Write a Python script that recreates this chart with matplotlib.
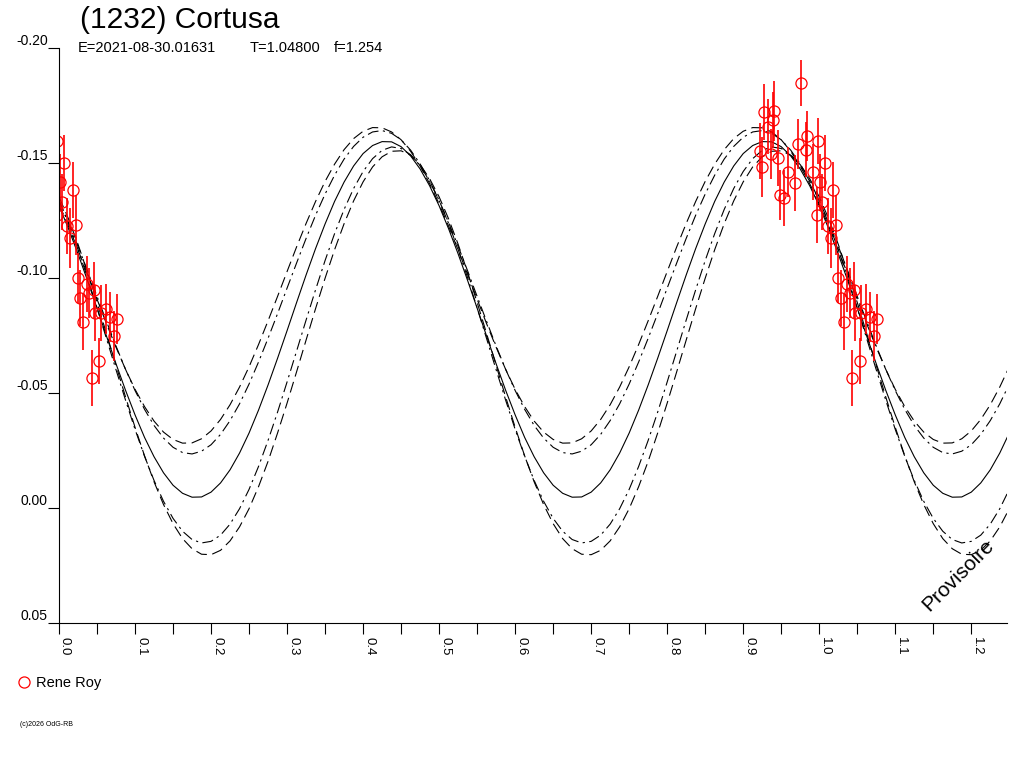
import numpy as np
import matplotlib.pyplot as plt
from matplotlib.lines import Line2D

plt.rcParams['font.family'] = ['Liberation Sans', 'DejaVu Sans']

# measurements (phase, reduced magnitude, 1-sigma error) - Rene Roy
obs_phase = [0.922, 0.925, 0.928, 0.933, 0.936, 0.939, 0.941, 0.946, 0.949, 0.954,
             0.959, 0.968, 0.972, 0.976, 0.982, 0.984, 0.992, 0.997, 0.998,
             1.001, 1.004, 1.007, 1.011, 1.015, 1.018, 1.022, 1.025, 1.028, 1.032,
             1.037, 1.040, 1.043, 1.046, 1.047, 1.053, 1.055, 1.062, 1.067, 1.072, 1.076]
obs_mag = [-0.1552, -0.1483, -0.1722, -0.1657, -0.1539, -0.1687, -0.1726, -0.1522, -0.1361, -0.1348,
           -0.1461, -0.1413, -0.1583, -0.1848, -0.1557, -0.1617, -0.1461, -0.1274, -0.1596,
           -0.1417, -0.1330, -0.1500, -0.1226, -0.1174, -0.1383, -0.1230, -0.1000, -0.0913, -0.0809,
           -0.0974, -0.0935, -0.0565, -0.0948, -0.0848, -0.0639, -0.0848, -0.0865, -0.0830, -0.0748, -0.0822]
obs_err = [0.012, 0.013, 0.012, 0.012, 0.011, 0.012, 0.013, 0.012, 0.011, 0.012,
           0.011, 0.012, 0.011, 0.010, 0.012, 0.011, 0.012, 0.012, 0.010,
           0.012, 0.012, 0.012, 0.012, 0.013, 0.012, 0.013, 0.011, 0.012, 0.012,
           0.012, 0.011, 0.012, 0.012, 0.012, 0.010, 0.012, 0.011, 0.011, 0.011, 0.011]

# fitted lightcurve and its uncertainty envelopes over one period (0.5 in phase),
# read every 0.0125 in phase; the plot shows 2.5 periods (phase 0 .. 1.25)
fit_period = [-0.1314, -0.1214, -0.1105, -0.0989, -0.0869, -0.0747, -0.0627, -0.0512,
              -0.0405, -0.0307, -0.0223, -0.0153, -0.0099, -0.0064, -0.0047, -0.0048,
              -0.0069, -0.0109, -0.0166, -0.0239, -0.0326, -0.0426, -0.0535, -0.0651,
              -0.0771, -0.0893, -0.1013, -0.1128, -0.1235, -0.1333, -0.1417, -0.1487,
              -0.1541, -0.1576, -0.1593, -0.1592, -0.1571, -0.1531, -0.1474, -0.1401]
upper_dash_period = [-0.1322, -0.1225, -0.1122, -0.1016, -0.0908, -0.0801, -0.0699, -0.0603,
                     -0.0516, -0.0441, -0.0378, -0.0330, -0.0298, -0.0282, -0.0283, -0.0301,
                     -0.0335, -0.0385, -0.0449, -0.0526, -0.0614, -0.0711, -0.0814, -0.0920,
                     -0.1028, -0.1135, -0.1237, -0.1333, -0.1420, -0.1495, -0.1558, -0.1606,
                     -0.1638, -0.1654, -0.1653, -0.1635, -0.1601, -0.1551, -0.1487, -0.1410]
upper_dashdot_period = [-0.1337, -0.1241, -0.1138, -0.1031, -0.0920, -0.0811, -0.0704, -0.0603,
                        -0.0511, -0.0429, -0.0359, -0.0304, -0.0264, -0.0241, -0.0235, -0.0247,
                        -0.0275, -0.0320, -0.0380, -0.0453, -0.0539, -0.0635, -0.0738, -0.0845,
                        -0.0956, -0.1065, -0.1172, -0.1273, -0.1365, -0.1447, -0.1517, -0.1572,
                        -0.1612, -0.1635, -0.1641, -0.1629, -0.1601, -0.1556, -0.1496, -0.1423]
lower_dashdot_period = [-0.1337, -0.1237, -0.1124, -0.1001, -0.0870, -0.0736, -0.0601, -0.0469,
                        -0.0342, -0.0225, -0.0120, -0.0029, 0.0045, 0.0101, 0.0137, 0.0152,
                        0.0145, 0.0118, 0.0070, 0.0003, -0.0081, -0.0181, -0.0294, -0.0417,
                        -0.0548, -0.0682, -0.0817, -0.0949, -0.1076, -0.1193, -0.1298, -0.1389,
                        -0.1463, -0.1519, -0.1555, -0.1570, -0.1563, -0.1536, -0.1488, -0.1421]
lower_dash_period = [-0.1353, -0.1257, -0.1147, -0.1024, -0.0894, -0.0758, -0.0620, -0.0483,
                     -0.0351, -0.0227, -0.0114, -0.0015, 0.0068, 0.0133, 0.0177, 0.0201,
                     0.0203, 0.0184, 0.0143, 0.0082, 0.0003, -0.0093, -0.0203, -0.0326,
                     -0.0456, -0.0592, -0.0730, -0.0867, -0.0999, -0.1123, -0.1236, -0.1335,
                     -0.1418, -0.1483, -0.1527, -0.1551, -0.1553, -0.1534, -0.1493, -0.1432]

model_phase = np.linspace(0.0, 1.25, 101)

x_ticks = [0.0, 0.1, 0.2, 0.3, 0.4, 0.5, 0.6, 0.7, 0.8, 0.9, 1.0, 1.1, 1.2]
x_minor = [0.05, 0.15, 0.25, 0.35, 0.45, 0.55, 0.65, 0.75, 0.85, 0.95, 1.05, 1.15]
y_ticks = [-0.20, -0.15, -0.10, -0.05, 0.00, 0.05]
y_labels = ['-0.20', '-0.15', '-0.10', '-0.05', '0.00', '0.05']


def unfold(period_vals):
    # the same period drawn 2.5 times along the phase axis
    return period_vals * 2 + period_vals[:21]


fig = plt.figure(figsize=(10.24, 7.68), dpi=100)
ax = fig.add_axes([59 / 1024, 145 / 768, 948 / 1024, 575 / 768])

lw = 0.8
ax.plot(model_phase, unfold(fit_period), color='black', lw=lw)
ax.plot(model_phase, unfold(upper_dash_period), color='black', lw=lw, dashes=(10, 5))
ax.plot(model_phase, unfold(lower_dash_period), color='black', lw=lw, dashes=(10, 5))
ax.plot(model_phase, unfold(upper_dashdot_period), color='black', lw=lw, dashes=(10, 4, 2, 4))
ax.plot(model_phase, unfold(lower_dashdot_period), color='black', lw=lw, dashes=(10, 4, 2, 4))

ph = np.array(obs_phase)
for shift in (0.0, -1.0):
    ax.errorbar(ph + shift, obs_mag, yerr=obs_err, fmt='o', mfc='none', mec='red',
                ecolor='red', ms=8, mew=0.9, elinewidth=1.2, capsize=0)

ax.set_xlim(0.0, 1.247)
ax.set_ylim(0.05, -0.20)

for side in ('top', 'right'):
    ax.spines[side].set_visible(False)
for side in ('left', 'bottom'):
    ax.spines[side].set_linewidth(0.8)

ax.set_yticks(y_ticks, y_labels)
ax.tick_params(axis='y', direction='out', length=8, width=0.8, pad=0, labelsize=10)
plt.setp(ax.get_yticklabels(), va='bottom')

ax.set_xticks(x_ticks, [f'{t:.1f}' for t in x_ticks])
ax.set_xticks(x_minor, minor=True)
ax.tick_params(axis='x', which='both', direction='out', length=8, width=0.8, pad=2, labelsize=9.5)
plt.setp(ax.get_xticklabels(), rotation=-90, ha='left', va='top')

fig.text(80 / 1024, 1 - 20 / 768, '(1232) Cortusa', fontsize=21.5, va='center')
fig.text(78 / 1024, 1 - 48 / 768, 'E=2021-08-30.01631', fontsize=10.5, va='center')
fig.text(250 / 1024, 1 - 48 / 768, 'T=1.04800', fontsize=10.5, va='center')
fig.text(334 / 1024, 1 - 48 / 768, 'f=1.254', fontsize=10.5, va='center')

fig.text(958 / 1024, 1 - 575 / 768, 'Provisoire', rotation=45, rotation_mode='anchor',
         ha='center', va='center', fontsize=15)

h = Line2D([], [], marker='o', ls='none', mfc='none', mec='red', ms=8, mew=0.9)
fig.legend(handles=[h], labels=['Rene Roy'], loc='center left',
           bbox_to_anchor=(17 / 1024, 1 - 683 / 768), frameon=False,
           handlelength=1.0, handletextpad=0.3, borderpad=0, borderaxespad=0, fontsize=10.5)

fig.text(20 / 1024, 1 - 725 / 768, '(c)2026 OdG-RB', fontsize=5, va='center')

fig.savefig('out.png', dpi=100)
